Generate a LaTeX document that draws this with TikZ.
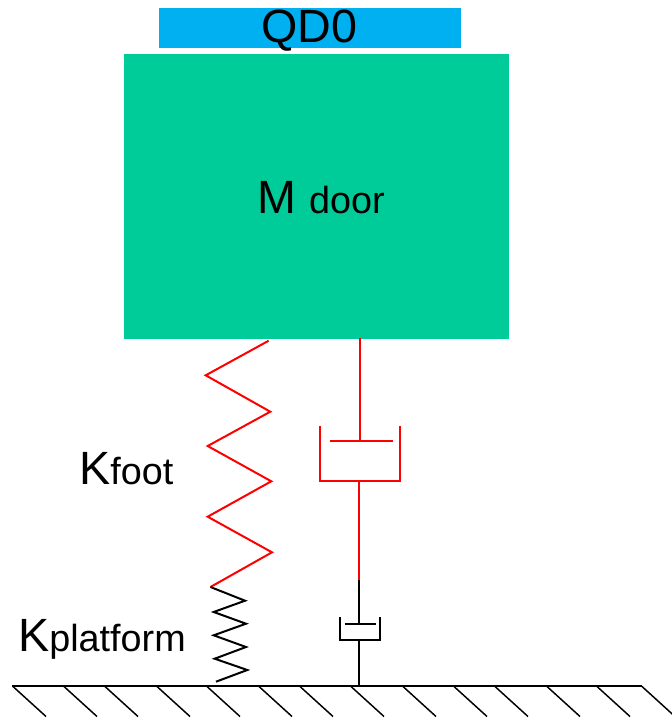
\documentclass[tikz,border=0pt]{standalone}
\usepackage{fontspec}
\setmainfont{Liberation Sans}
\tikzset{
  mass/.style={rectangle, fill=massgreen, inner sep=0pt, minimum width=385*0.75pt, minimum height=285*0.75pt},
  sensor/.style={rectangle, fill=sensorblue, inner sep=0pt, minimum width=302*0.75pt, minimum height=40*0.75pt},
  redline/.style={red, line width=1.5pt},
  blackline/.style={black, line width=1.5pt},
  label/.style={inner sep=0pt, anchor=base west},
}
\definecolor{massgreen}{HTML}{00CC99}
\definecolor{sensorblue}{HTML}{00B0F0}
\newcommand{\bigsize}{\fontsize{35}{36}\selectfont}
\newcommand{\smallsize}{\fontsize{28.3}{30}\selectfont}
\begin{document}
\begin{tikzpicture}[x=0.75pt, y=-0.75pt]
    \useasboundingbox (0,0) rectangle (672,719);
    \node[mass] (M) at (316.5,196.5) {};
    \node[sensor] (QD) at (310,27.5) {};
    \node[inner sep=0pt, anchor=base] (QDtext) at (309,42.7) {\bigsize QD0};
    \node[label] (Mtext) at (257,213) {\bigsize M \smallsize door};
    \node[label] (Kfoot) at (79,484.5) {\bigsize K\smallsize foot};
    \node[label] (Kplat) at (18,651) {\bigsize K\smallsize platform};
    % red spring
    \coordinate (S1) at (268.7,340.7);
    \coordinate (S2) at (205.7,375.3);
    \coordinate (S3) at (270.3,411.7);
    \coordinate (S4) at (207.7,446);
    \coordinate (S5) at (271.3,481.3);
    \coordinate (S6) at (207.7,516.7);
    \coordinate (S7) at (272,552.3);
    \coordinate (S8) at (210.5,587);
    \draw[redline] (S1) -- (S2) -- (S3) -- (S4) -- (S5) -- (S6) -- (S7) -- (S8);
    % black spring
    \coordinate (P1) at (245,600.7);
    \coordinate (P2) at (213.7,612);
    \coordinate (P3) at (246,623.7);
    \coordinate (P4) at (213.7,635.3);
    \coordinate (P5) at (246,647);
    \coordinate (P6) at (214.7,658.7);
    \coordinate (P7) at (247.3,670);
    \coordinate (P8) at (216,681.7);
    \draw[blackline] (S8) -- (P1) -- (P2) -- (P3) -- (P4) -- (P5) -- (P6) -- (P7) -- (P8);
    % red damper
    \coordinate (A1) at (360,338);
    \coordinate (A2) at (360,441);
    \coordinate (A3) at (329.5,441);
    \coordinate (A4) at (393,441);
    \coordinate (A5) at (320,426);
    \coordinate (A6) at (320,481);
    \coordinate (A7) at (400,481);
    \coordinate (A8) at (400,426);
    \coordinate (A9) at (358.7,481);
    \coordinate (A10) at (358.7,580);
    \draw[redline] (A1) -- (A2);
    \draw[redline] (A3) -- (A4);
    \draw[redline] (A5) -- (A6) -- (A7) -- (A8);
    \draw[redline] (A9) -- (A10);
    % black damper
    \coordinate (B1) at (358.7,623.5);
    \coordinate (B2) at (344.5,623.5);
    \coordinate (B3) at (376,623.5);
    \coordinate (B4) at (339.7,616.7);
    \coordinate (B5) at (339.7,640.3);
    \coordinate (B6) at (379.7,640.3);
    \coordinate (B7) at (379.7,616.7);
    \coordinate (B8) at (358.7,640.3);
    \coordinate (B9) at (358.7,686);
    \draw[blackline] (A10) -- (B1);
    \draw[blackline] (B2) -- (B3);
    \draw[blackline] (B4) -- (B5) -- (B6) -- (B7);
    \draw[blackline] (B8) -- (B9);
    % ground
    \coordinate (G1) at (12,686);
    \coordinate (G2) at (642,686);
    \draw[blackline] (G1) -- (G2);
    \foreach \x in {13,64,105,157,207,259,300,351,403,454,495,547,597,642}
      \draw[black, line width=1.1pt] (\x,686.5) -- ++(33,30);
  \end{tikzpicture}
\end{document}
